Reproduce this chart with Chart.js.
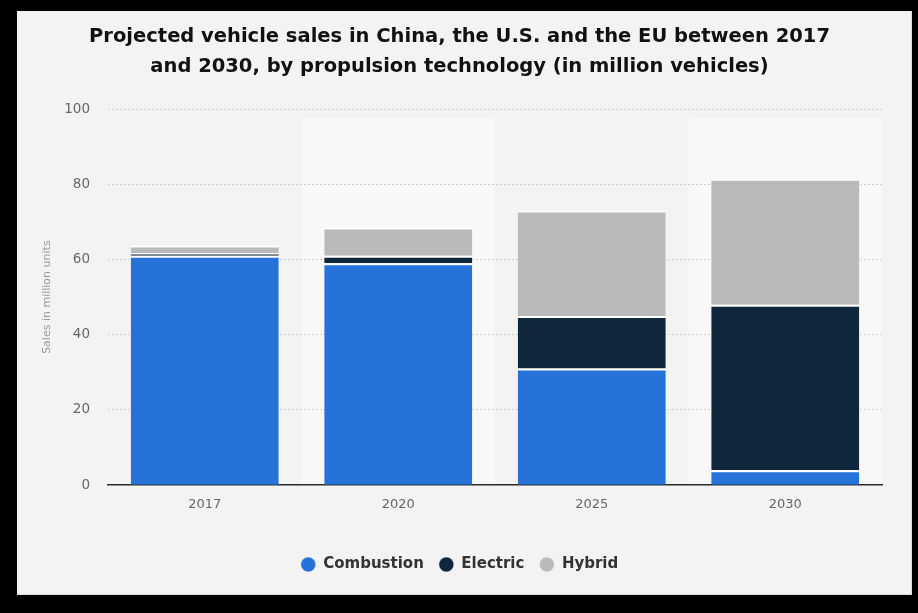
<!DOCTYPE html>
<html>
<head>
<meta charset="utf-8">
<script src="https://cdn.jsdelivr.net/npm/chart.js@4/dist/chart.umd.min.js"></script>
<style>
  html, body { margin: 0; padding: 0; background: #000; }
  #card {
    position: absolute;
    left: 17px;
    top: 11px;
    width: 895px;
    height: 584px;
    background: #f3f3f3;
    box-sizing: border-box;
    border-right: 1px solid #dcdcdc;
    border-bottom: 1px solid #dcdcdc;
  }
</style>
</head>
<body>
<div id="card"><canvas id="salesChart"></canvas></div>
<script>
const years = ["2017", "2020", "2025", "2030"];
const combustion = [61, 59, 31, 4];
const electric = [0.7, 2, 14, 44];
const hybrid = [2, 7.5, 28, 33.5];
const yTicks = [0, 20, 40, 60, 80, 100];

const FONT = "'DejaVu Sans', Verdana, sans-serif";

// lighter background behind every second year column
const columnBands = {
  id: "columnBands",
  beforeDraw(chart) {
    const { ctx, chartArea, scales } = chart;
    const x = scales.x;
    const step = (chartArea.right - chartArea.left) / years.length;
    ctx.save();
    ctx.fillStyle = "#f8f8f8";
    years.forEach((_, i) => {
      if (i % 2 === 1) {
        const cx = x.getPixelForValue(i);
        ctx.fillRect(cx - step / 2, chartArea.top + 9, step, chartArea.bottom - chartArea.top - 9);
      }
    });
    ctx.restore();
  },
};

const barStyle = {
  borderColor: "#ffffff",
  borderWidth: { top: 2 },
  borderSkipped: false,
  barPercentage: 0.765,
  categoryPercentage: 1,
};

new Chart(document.getElementById("salesChart"), {
  type: "bar",
  data: {
    labels: years,
    datasets: [
      { label: "Combustion", data: combustion, backgroundColor: "#2573d9", ...barStyle },
      { label: "Electric", data: electric, backgroundColor: "#0f263c", ...barStyle },
      { label: "Hybrid", data: hybrid, backgroundColor: "#b9bbbb", ...barStyle },
    ],
  },
  options: {
    responsive: true,
    maintainAspectRatio: false,
    animation: false,
    layout: { padding: { left: 20, right: 29, top: 0, bottom: 12 } },
    plugins: {
      title: {
        display: true,
        text: [
          "Projected vehicle sales in China, the U.S. and the EU between 2017",
          "and 2030, by propulsion technology (in million vehicles)",
        ],
        color: "#111",
        font: { family: FONT, size: 19.5, weight: "bold", lineHeight: 1.54 },
        padding: { top: 11, bottom: 27 },
      },
      legend: {
        position: "bottom",
        // empty title only adds a gap between the axis labels and the legend row
        title: { display: true, text: "", font: { size: 1 }, padding: { top: 0, bottom: 24 } },
        labels: {
          usePointStyle: true,
          pointStyle: "circle",
          pointStyleWidth: 15,
          boxHeight: 10.6,
          padding: 15,
          color: "#333",
          font: { family: FONT, size: 15, weight: "bold" },
        },
      },
      tooltip: { enabled: false },
    },
    scales: {
      x: {
        stacked: true,
        grid: { display: false },
        border: { display: true, color: "#2b2b2b", width: 1.5 },
        ticks: { color: "#666", padding: 4, font: { family: FONT, size: 13 } },
      },
      y: {
        stacked: true,
        min: 0,
        max: 100,
        afterBuildTicks: (scale) => {
          scale.ticks = yTicks.map((v) => ({ value: v }));
        },
        afterFit: (scale) => {
          scale.width = 71;
        },
        grid: {
          color: (c) => (c.tick && c.tick.value === 0 ? "rgba(0,0,0,0)" : "#cfcfcf"),
          drawTicks: false,
        },
        border: { display: false, dash: [2, 2] },
        ticks: { color: "#666", padding: 18, font: { family: FONT, size: 13.5 } },
        title: {
          display: true,
          text: "Sales in million units",
          color: "#999",
          font: { family: FONT, size: 11 },
        },
      },
    },
  },
  plugins: [columnBands],
});
</script>
</body>
</html>
